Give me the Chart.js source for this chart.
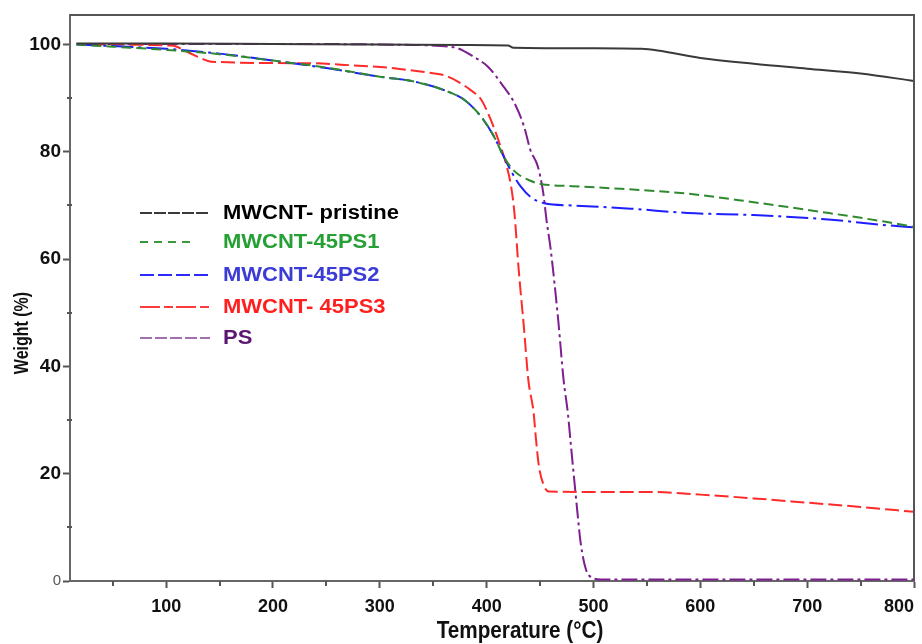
<!DOCTYPE html>
<html>
<head>
<meta charset="utf-8">
<script src="https://cdn.jsdelivr.net/npm/chart.js@4.4.1/dist/chart.umd.min.js"></script>
<style>
  html, body { margin: 0; padding: 0; background: #fff; }
  #wrap { width: 922px; height: 644px; }
</style>
</head>
<body>
<div id="wrap"><canvas id="myChart" width="922" height="644"></canvas></div>
<script>
// ---- data ----
const pristineT = [16, 100, 200, 300, 380, 420, 425, 500, 545, 560, 600, 650, 700, 750, 800];
const pristineW = [100.2, 100.2, 100.1, 100.0, 99.9, 99.8, 99.4, 99.3, 99.2, 98.9, 97.5, 96.4, 95.5, 94.6, 93.2];

const ps1T = [16, 50, 100, 150, 200, 250, 300, 332, 364, 379, 395, 407, 416, 426, 441, 451, 480, 526, 588, 650, 713, 775, 800];
const ps1W = [100, 99.6, 99.0, 98.2, 97.0, 95.7, 94.0, 93.1, 91.2, 89.7, 86.5, 82.8, 79.1, 76.4, 74.6, 74.0, 73.6, 73.1, 72.2, 70.6, 68.8, 66.9, 66.0];

const ps2T = [16, 50, 100, 150, 200, 250, 300, 332, 364, 379, 395, 407, 416, 424, 432, 441, 454, 480, 535, 588, 650, 713, 775, 800];
const ps2W = [100, 99.7, 99.2, 98.3, 97.0, 95.6, 94.0, 93.1, 91.2, 89.7, 86.5, 82.8, 79.1, 76.0, 73.5, 71.6, 70.4, 70.0, 69.4, 68.6, 68.2, 67.5, 66.3, 65.9];

const ps3T = [30, 105, 120, 133, 142, 236, 267, 301, 329, 348, 360, 373, 385, 395, 404, 412, 418, 423, 426, 430, 435, 439, 444, 446, 449, 454, 458, 507, 550, 600, 650, 700, 750, 800];
const ps3W = [100, 99.8, 98.6, 97.4, 96.8, 96.5, 96.2, 95.8, 95.2, 94.7, 94.3, 93.1, 91.5, 89.7, 85.9, 81.6, 77.9, 73.4, 68.6, 58, 47, 37.5, 31.3, 26.8, 21.3, 17.6, 16.7, 16.6, 16.6, 16.1, 15.4, 14.6, 13.8, 12.9];

const psT = [20, 200, 300, 357, 373, 388, 401, 416, 426, 435, 441, 448, 453, 456, 460, 467, 472, 476, 479, 482, 485, 488, 493, 499, 507, 600, 700, 800];
const psW = [100.1, 100.1, 100.0, 99.7, 99.3, 97.7, 95.9, 92.1, 89.1, 84.7, 80.3, 77.2, 72.3, 67.3, 61.7, 48.6, 37.5, 31.3, 25.0, 18.8, 12.7, 7.1, 2.1, 0.6, 0.3, 0.3, 0.3, 0.3];

const seriesNames = ['MWCNT- pristine', 'MWCNT-45PS1', 'MWCNT-45PS2', 'MWCNT- 45PS3', 'PS'];
const xTickVals = [50, 100, 150, 200, 250, 300, 350, 400, 450, 500, 550, 600, 650, 700, 750, 800];
const yTickVals = [0, 10, 20, 30, 40, 50, 60, 70, 80, 90, 100];

const sans = "'Liberation Sans', Arial, sans-serif";

function pts(xs, ys) {
    return xs.map((x, i) => ({ x: x, y: ys[i] }));
}

const styles = [
    { color: '#3a3a3a', dash: [], legendDash: [12, 2], legendColor: '#3a3a3a', text: '#000000' },
    { color: '#2f8a2f', dash: [10, 5], legendDash: [8, 6], legendColor: '#3a9a3a', text: '#25a035' },
    { color: '#1e1eff', dash: [22, 5, 3, 5], legendDash: [14, 4, 14, 4, 14, 4, 14, 4, 2, 6], legendColor: '#2a2aff', text: '#3b3bd6' },
    { color: '#ff2a2a', dash: [14, 5], legendDash: [20, 4, 9, 3], legendColor: '#ff3a3a', text: '#ff1f1f' },
    { color: '#7d1f8f', dash: [16, 4, 3, 4], legendDash: [12, 3], legendColor: '#a070b0', text: '#5b1670' }
];

const allData = [pts(pristineT, pristineW), pts(ps1T, ps1W), pts(ps2T, ps2W), pts(ps3T, ps3W), pts(psT, psW)];

const datasets = allData.map((d, i) => ({
    label: seriesNames[i],
    data: d,
    borderColor: styles[i].color,
    borderDash: styles[i].dash,
    borderWidth: 2,
    pointRadius: 0,
    fill: false,
    cubicInterpolationMode: 'monotone'
}));

// frame, minor ticks, axis titles, legend
const extras = {
    id: 'extras',
    afterDraw(chart) {
        const c = chart.ctx;
        const a = chart.chartArea;
        const xs = chart.scales.x, ys = chart.scales.y;
        c.save();
        // top and right frame lines
        c.strokeStyle = '#555';
        c.lineWidth = 2;
        c.beginPath();
        c.moveTo(a.left, a.top);
        c.lineTo(a.right, a.top);
        c.lineTo(a.right, a.bottom);
        c.stroke();
        // minor ticks
        xTickVals.filter(v => v % 100 !== 0).forEach(v => {
            const px = Math.round(xs.getPixelForValue(v));
            c.beginPath();
            c.moveTo(px, a.bottom);
            c.lineTo(px, a.bottom + 5);
            c.stroke();
        });
        yTickVals.filter(v => v % 20 !== 0).forEach(v => {
            const py = Math.round(ys.getPixelForValue(v));
            c.beginPath();
            c.moveTo(a.left - 3, py);
            c.lineTo(a.left + 2, py);
            c.stroke();
        });
        // axis titles (condensed bold, like the original)
        c.fillStyle = '#111';
        c.textAlign = 'center';
        c.textBaseline = 'alphabetic';
        c.save();
        c.translate(520, 638);
        c.scale(0.9, 1);
        c.font = 'bold 23px ' + sans;
        c.fillText('Temperature (\u00B0C)', 0, 0);
        c.restore();
        c.save();
        c.translate(28, 333);
        c.rotate(-Math.PI / 2);
        c.scale(0.8, 1);
        c.font = 'bold 20px ' + sans;
        c.fillText('Weight (%)', 0, 0);
        c.restore();
        c.restore();

        // legend inside plot
        c.save();
        const rows = [213, 242, 275, 307, 338];
        c.font = 'bold 20px ' + sans;
        c.textBaseline = 'middle';
        c.textAlign = 'left';
        chart.data.datasets.forEach((ds, i) => {
            const y = rows[i];
            c.strokeStyle = styles[i].legendColor;
            c.lineWidth = 2;
            c.setLineDash(styles[i].legendDash);
            c.beginPath();
            c.moveTo(140, y);
            c.lineTo(i === 1 ? 196 : 210, y);
            c.stroke();
            c.setLineDash([]);
            c.save();
            c.translate(223, y);
            c.scale(1.1, 1);
            c.fillStyle = styles[i].text;
            c.fillText(ds.label, 0, 0);
            c.restore();
        });
        c.restore();
    }
};

const bg = {
    id: 'bg',
    beforeDraw(chart) {
        const c = chart.ctx;
        c.save();
        c.fillStyle = '#fff';
        c.fillRect(0, 0, chart.width, chart.height);
        c.restore();
    }
};

const ctx = document.getElementById('myChart').getContext('2d');
new Chart(ctx, {
    type: 'line',
    data: { datasets: datasets },
    options: {
        responsive: false,
        animation: false,
        layout: { padding: { top: 15, right: 8, left: 0, bottom: 0 } },
        plugins: { legend: { display: false }, tooltip: { enabled: false } },
        scales: {
            x: {
                type: 'linear',
                min: 10,
                max: 800,
                afterBuildTicks: s => { s.ticks = xTickVals.map(v => ({ value: v })); },
                afterFit: s => { s.height = 63; s.paddingLeft = 0; s.paddingRight = 0; },
                border: { color: '#666', width: 2 },
                grid: {
                    drawOnChartArea: false,
                    drawTicks: true,
                    tickLength: 7,
                    tickWidth: 2,
                    tickColor: c => (c.tick && c.tick.value % 100 === 0) ? '#555' : 'rgba(0,0,0,0)'
                },
                ticks: {
                    autoSkip: false,
                    maxRotation: 0,
                    align: 'inner',
                    padding: 8,
                    color: '#111',
                    font: { family: sans, size: 18, weight: 'bold' },
                    callback: v => v % 100 === 0 ? String(v) : ''
                }
            },
            y: {
                min: 0,
                max: 105.5,
                afterBuildTicks: s => { s.ticks = yTickVals.map(v => ({ value: v })); },
                afterFit: s => { s.width = 70; s.paddingTop = 0; s.paddingBottom = 0; },
                border: { color: '#666', width: 2 },
                grid: {
                    drawOnChartArea: false,
                    drawTicks: true,
                    tickLength: 7,
                    tickWidth: 2,
                    tickColor: c => (c.tick && c.tick.value % 20 === 0) ? '#555' : 'rgba(0,0,0,0)'
                },
                ticks: {
                    autoSkip: false,
                    padding: 2,
                    color: c => c.tick && c.tick.value === 0 ? '#555' : '#111',
                    font: c => (c.tick && c.tick.value === 0)
                        ? { family: sans, size: 15, weight: 'normal' }
                        : { family: sans, size: 19, weight: 'bold' },
                    callback: v => v % 20 === 0 ? String(v) : ''
                }
            }
        }
    },
    plugins: [bg, extras]
});
</script>
</body>
</html>
